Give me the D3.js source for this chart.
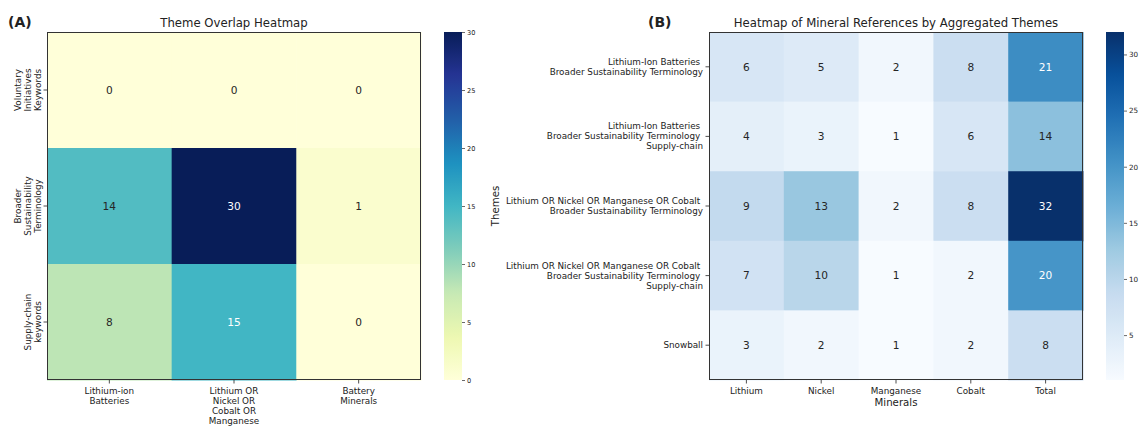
<!DOCTYPE html>
<html>
<head>
<meta charset="utf-8">
<script src="https://cdn.jsdelivr.net/npm/d3@7"></script>
<style>
  html, body { margin: 0; padding: 0; background: #fff; }
  svg { display: block; font-family: "DejaVu Sans", sans-serif; }
  text { fill: #222; }
</style>
</head>
<body>
<svg id="chart" width="1145" height="426"></svg>
<script>
// Panel A: overlap between theme keyword groups and source groups
const themesA = ["Voluntary\nInitiatives\nKeywords", "Broader\nSustainability\nTerminology", "Supply-chain\nkeywords"];
const sourcesA = ["Lithium-ion\nBatteries", "Lithium OR\nNickel OR\nCobalt OR\nManganese", "Battery\nMinerals"];
const overlapA = [
  [0, 0, 0],
  [14, 30, 1],
  [8, 15, 0]
];
const cbarTicksA = [0, 5, 10, 15, 20, 25, 30];
const cbarDomainA = [0, 30];

// Panel B: mineral references per aggregated theme
const themesB = [
  "Lithium-Ion Batteries \nBroader Sustainability Terminology",
  "Lithium-Ion Batteries \nBroader Sustainability Terminology \nSupply-chain",
  "Lithium OR Nickel OR Manganese OR Cobalt \nBroader Sustainability Terminology",
  "Lithium OR Nickel OR Manganese OR Cobalt \nBroader Sustainability Terminology \nSupply-chain",
  "Snowball"
];
const mineralsB = ["Lithium", "Nickel", "Manganese", "Cobalt", "Total"];
const countsB = [
  [6, 5, 2, 8, 21],
  [4, 3, 1, 6, 14],
  [9, 13, 2, 8, 32],
  [7, 10, 1, 2, 20],
  [3, 2, 1, 2, 8]
];
const cbarTicksB = [5, 10, 15, 20, 25, 30];
const cbarDomainB = [1, 32];

// ColorBrewer anchor colours, linearly interpolated
const ylGnBu = ["#ffffd9", "#edf8b1", "#c7e9b4", "#7fcdbb", "#41b6c4", "#1d91c0", "#225ea8", "#253494", "#081d58"];
const blues  = ["#f7fbff", "#deebf7", "#c6dbef", "#9ecae1", "#6baed6", "#4292c6", "#2171b5", "#08519c", "#08306b"];

const tickFont = "8.8px";

function makeColor(domain, stops) {
  const t = d3.scaleLinear().domain(domain).range([0, 1]).clamp(true);
  const c = d3.scaleLinear()
    .domain(stops.map((_, i) => i / (stops.length - 1)))
    .range(stops)
    .interpolate(d3.interpolateRgb);
  return v => c(t(v));
}

function luminance(col) {
  const c = d3.rgb(col);
  const f = v => { v /= 255; return v <= 0.03928 ? v / 12.92 : Math.pow((v + 0.055) / 1.055, 2.4); };
  return 0.2126 * f(c.r) + 0.7152 * f(c.g) + 0.0722 * f(c.b);
}

const svg = d3.select("#chart");

function heatmap(opts) {
  const { rows, cols, values, color, x0, x1, y0, y1 } = opts;
  const x = d3.scaleBand().domain(d3.range(cols.length)).range([x0, x1]);
  const y = d3.scaleBand().domain(d3.range(rows.length)).range([y0, y1]);
  const g = svg.append("g");

  const cells = [];
  values.forEach((row, r) => row.forEach((v, c) => cells.push({ r, c, v })));

  g.selectAll("rect.cell").data(cells).join("rect")
    .attr("class", "cell")
    .attr("x", d => x(d.c))
    .attr("y", d => y(d.r))
    .attr("width", x.bandwidth() + 0.5)
    .attr("height", y.bandwidth() + 0.5)
    .attr("fill", d => color(d.v));

  g.selectAll("text.annot").data(cells).join("text")
    .attr("class", "annot")
    .attr("x", d => x(d.c) + x.bandwidth() / 2)
    .attr("y", d => y(d.r) + y.bandwidth() / 2)
    .attr("dy", "0.36em")
    .attr("text-anchor", "middle")
    .style("font-size", "10.6px")
    .style("fill", d => luminance(color(d.v)) > 0.408 ? "#262626" : "#ffffff")
    .text(d => d.v);

  // frame
  g.append("rect")
    .attr("x", x0 + 0.5).attr("y", y0 + 0.5)
    .attr("width", x1 - x0 - 1).attr("height", y1 - y0 - 1)
    .attr("fill", "none").attr("stroke", "#333").attr("stroke-width", 1);

  // tick marks
  const xc = i => x(i) + x.bandwidth() / 2;
  const yc = i => y(i) + y.bandwidth() / 2;
  g.selectAll("line.xt").data(d3.range(cols.length)).join("line")
    .attr("x1", xc).attr("x2", xc).attr("y1", y1).attr("y2", y1 + 3.5)
    .attr("stroke", "#222").attr("stroke-width", 0.8);
  g.selectAll("line.yt").data(d3.range(rows.length)).join("line")
    .attr("x1", x0 - 3.5).attr("x2", x0).attr("y1", yc).attr("y2", yc)
    .attr("stroke", "#222").attr("stroke-width", 0.8);

  return { g, x, y, xc, yc };
}

function colorbar(opts) {
  const { id, color, domain, ticks, x0, w, y0, y1, fontSize } = opts;
  const defs = svg.append("defs");
  const grad = defs.append("linearGradient").attr("id", id)
    .attr("x1", 0).attr("y1", 1).attr("x2", 0).attr("y2", 0);
  d3.range(0, 1.0001, 0.02).forEach(t => {
    grad.append("stop").attr("offset", t)
      .attr("stop-color", color(domain[0] + t * (domain[1] - domain[0])));
  });
  svg.append("rect").attr("x", x0).attr("y", y0).attr("width", w).attr("height", y1 - y0)
    .attr("fill", `url(#${id})`);
  const s = d3.scaleLinear().domain(domain).range([y1, y0]);
  const ax = svg.append("g").attr("transform", `translate(${x0 + w},0)`)
    .call(d3.axisRight(s).tickValues(ticks).tickSize(3).tickPadding(2));
  ax.select(".domain").remove();
  ax.selectAll(".tick line").attr("stroke", "#444").attr("stroke-width", 0.8);
  ax.selectAll(".tick text").style("font-size", fontSize).attr("fill", "#222")
    .attr("font-family", "DejaVu Sans");
}

// ---------- Panel A ----------
const colorA = makeColor(cbarDomainA, ylGnBu);
const A = heatmap({ rows: themesA, cols: sourcesA, values: overlapA, color: colorA, x0: 47, x1: 421, y0: 32, y1: 380 });

svg.append("text").attr("x", 234).attr("y", 26.5).attr("text-anchor", "middle")
  .style("font-size", "11.7px").text("Theme Overlap Heatmap");
svg.append("text").attr("x", 8).attr("y", 27).style("font-size", "14px").style("font-weight", "bold").text("(A)");

// x labels (multi-line, centred)
sourcesA.forEach((lab, i) => {
  const t = svg.append("text").attr("text-anchor", "middle").style("font-size", tickFont);
  lab.split("\n").forEach((line, k) => {
    t.append("tspan").attr("x", A.xc(i)).attr("y", 394 + k * 10).text(line);
  });
});
// y labels rotated, last line nearest the axis
themesA.forEach((lab, i) => {
  const lines = lab.split("\n");
  lines.forEach((line, k) => {
    const bx = 40.5 - (lines.length - 1 - k) * 10;
    svg.append("text")
      .attr("transform", `translate(${bx},${A.yc(i)}) rotate(-90)`)
      .attr("text-anchor", "middle").style("font-size", tickFont).text(line);
  });
});

colorbar({ id: "gradA", color: colorA, domain: cbarDomainA, ticks: cbarTicksA, x0: 444, w: 18, y0: 32, y1: 380, fontSize: "6.6px" });

// ---------- Panel B ----------
const colorB = makeColor(cbarDomainB, blues);
const B = heatmap({ rows: themesB, cols: mineralsB, values: countsB, color: colorB, x0: 709, x1: 1083, y0: 32, y1: 380 });

svg.append("text").attr("x", 896).attr("y", 26.5).attr("text-anchor", "middle")
  .style("font-size", "11.7px").text("Heatmap of Mineral References by Aggregated Themes");
svg.append("text").attr("x", 648).attr("y", 27).style("font-size", "14px").style("font-weight", "bold").text("(B)");

mineralsB.forEach((lab, i) => {
  svg.append("text").attr("x", B.xc(i)).attr("y", 393.5).attr("text-anchor", "middle")
    .style("font-size", tickFont).text(lab);
});
themesB.forEach((lab, i) => {
  const lines = lab.split("\n");
  const t = svg.append("text").attr("text-anchor", "end").style("font-size", tickFont)
    .style("white-space", "pre");
  lines.forEach((line, k) => {
    t.append("tspan").attr("x", 703)
      .attr("y", B.yc(i) + (k - (lines.length - 1) / 2) * 10 + 3)
      .text(line);
  });
});

svg.append("text").attr("x", 896).attr("y", 405.5).attr("text-anchor", "middle")
  .style("font-size", "10.2px").text("Minerals");
svg.append("text").attr("transform", "translate(499,206) rotate(-90)").attr("text-anchor", "middle")
  .style("font-size", "10.2px").text("Themes");

colorbar({ id: "gradB", color: colorB, domain: cbarDomainB, ticks: cbarTicksB, x0: 1106, w: 18, y0: 32, y1: 380, fontSize: "7.2px" });
</script>
</body>
</html>
